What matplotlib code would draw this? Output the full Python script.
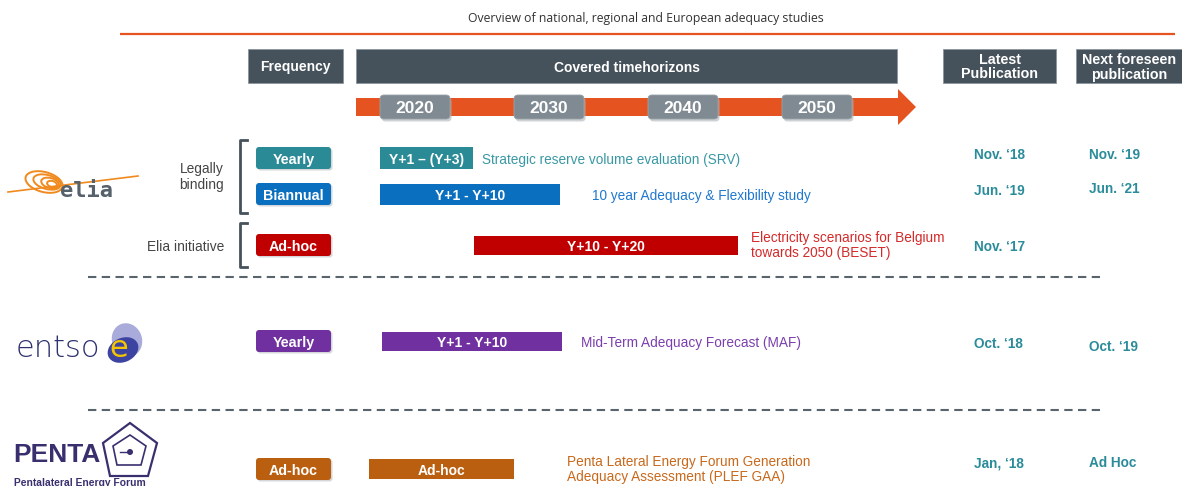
import matplotlib
matplotlib.use('Agg')
import matplotlib.pyplot as plt
from matplotlib.patches import FancyBboxPatch, Rectangle, Ellipse, Polygon, Circle

plt.rcParams['font.family'] = ['Liberation Sans', 'DejaVu Sans']

# ---- data ----
years = [2020, 2030, 2040, 2050]

freq_labels = ['Yearly', 'Biannual', 'Ad-hoc', 'Yearly', 'Ad-hoc']
row_colors = ['#2A8A96', '#0B6FC0', '#C00000', '#7030A0', '#BA5F10']
bar_start = [2017.4, 2017.4, 2024.4, 2017.5, 2016.6]
bar_end = [2024.3, 2030.8, 2044.1, 2031.0, 2027.4]
bar_labels = ['Y+1 – (Y+3)', 'Y+1 - Y+10', 'Y+10 - Y+20', 'Y+1 - Y+10', 'Ad-hoc']
descriptions = ['Strategic reserve volume evaluation (SRV)',
                '10 year Adequacy & Flexibility study',
                'Electricity scenarios for Belgium\ntowards 2050 (BESET)',
                'Mid-Term Adequacy Forecast (MAF)',
                'Penta Lateral Energy Forum Generation\nAdequacy Assessment (PLEF GAA)']
desc_colors = ['#3A98A4', '#1F78CF', '#D42A2A', '#7B3FAE', '#C8691C']
latest_pub = ["Nov. ‘18", "Jun. ‘19", "Nov. ‘17", "Oct. ‘18", "Jan, ‘18"]
next_pub = ["Nov. ‘19", "Jun. ‘21", "", "Oct. ‘19", "Ad Hoc"]

# ---- layout (pixels) ----
row_y = [158, 194, 245, 341, 469]
bar_h = [22, 21, 19, 19, 20]
desc_x = [482, 592, 751, 581, 567]
latest_y = [153, 189, 245, 342, 462]
next_y = [153, 187, None, 345, 461]

header_col = '#46525B'
orange = '#E55420'
date_col = '#2A8C9A'
px_per_year = 13.4
x2020 = 415

fig = plt.figure(figsize=(11.82, 4.86), dpi=100)
ax = fig.add_axes([0, 0, 1, 1])
ax.set_xlim(0, 1182)
ax.set_ylim(486, 0)
ax.axis('off')

# timeline axes: x in years
t_left, t_right = 356, 916
ax_t = fig.add_axes([t_left / 1182, 0, (t_right - t_left) / 1182, 1])
ax_t.set_xlim(2020 + (t_left - x2020) / px_per_year, 2020 + (t_right - x2020) / px_per_year)
ax_t.set_ylim(486, 0)
ax_t.axis('off')
ax_t.patch.set_alpha(0)

# title and orange rule
ax.text(646, 17, 'Overview of national, regional and European adequacy studies',
        ha='center', va='center_baseline', fontsize=8.8, color='#333333', family='Open Sans')
ax.plot([120, 1175], [34, 34], color=orange, lw=1.6, solid_capstyle='butt')

# header boxes
headers = [(248, 95, 'Frequency'), (356, 541, 'Covered timehorizons'),
           (943, 113, 'Latest\nPublication'), (1076, 106, 'Next foreseen\npublication')]
for hx, hw, ht in headers:
    ax.add_patch(Rectangle((hx, 49), hw, 34, facecolor=header_col, edgecolor='#8C969C', lw=0.6))
    if '\n' in ht:
        ax.text(hx + hw / 2, 67.5, ht, ha='center', va='center', color='white',
                fontsize=10.3, fontweight='bold', linespacing=1.0)
    else:
        ax.text(hx + hw / 2, 66, ht, ha='center', va='center_baseline', color='white',
                fontsize=10, fontweight='bold')

# orange timeline arrow
ax.fill([356, 898, 898, 916, 898, 898, 356], [98, 98, 89, 107, 125, 116, 116],
        color=orange, lw=0)

# year pills on the timeline axis
pill_w = 70 / px_per_year
for yr in years:
    ax_t.add_patch(FancyBboxPatch((yr - pill_w / 2 + 0.12, 97.5), pill_w, 24,
                                  boxstyle='round,pad=0,rounding_size=0.3',
                                  mutation_aspect=px_per_year,
                                  facecolor='#B0B4B8', edgecolor='none', alpha=0.6))
    ax_t.add_patch(FancyBboxPatch((yr - pill_w / 2, 95), pill_w, 24,
                                  boxstyle='round,pad=0,rounding_size=0.3',
                                  mutation_aspect=px_per_year,
                                  facecolor='#7F8A92', edgecolor='#9AA2A8', lw=0.6))
    ax_t.text(yr, 107, str(yr), ha='center', va='center_baseline', color='white',
              fontsize=12.5, fontweight='bold')

# study bars
for i in range(len(bar_labels)):
    ax_t.barh(row_y[i], bar_end[i] - bar_start[i], left=bar_start[i], height=bar_h[i],
              color=row_colors[i], edgecolor='none')
    ax_t.text((bar_start[i] + bar_end[i]) / 2, row_y[i], bar_labels[i], ha='center',
              va='center_baseline', color='white', fontsize=10, fontweight='bold')

# frequency pills
for i, lab in enumerate(freq_labels):
    ax.add_patch(FancyBboxPatch((257.5, row_y[i] - 9.5), 75, 22,
                                boxstyle='round,pad=0,rounding_size=3',
                                facecolor='#B8BCC0', edgecolor='none', alpha=0.6))
    ax.add_patch(FancyBboxPatch((256, row_y[i] - 11), 75, 22,
                                boxstyle='round,pad=0,rounding_size=3',
                                facecolor=row_colors[i], edgecolor='none'))
    ax.text(293.5, row_y[i], lab, ha='center', va='center_baseline', color='white',
            fontsize=10.3, fontweight='bold')

# descriptions
for i, d in enumerate(descriptions):
    if '\n' in d:
        ax.text(desc_x[i], row_y[i] + 0.5, d, ha='left', va='center',
                color=desc_colors[i], fontsize=9.8, linespacing=1.1)
    else:
        ax.text(desc_x[i], row_y[i], d, ha='left', va='center_baseline',
                color=desc_colors[i], fontsize=9.8)

# publication dates
for i in range(len(latest_pub)):
    ax.text(974, latest_y[i], latest_pub[i], ha='left', va='center_baseline', color=date_col,
            fontsize=9.8, fontweight='bold')
    if next_pub[i]:
        ax.text(1089, next_y[i], next_pub[i], ha='left', va='center_baseline', color=date_col,
                fontsize=9.8, fontweight='bold')

# brackets and group labels
ax.plot([247, 240, 240, 247], [140, 140, 213, 213], color=header_col, lw=2)
ax.plot([247, 240, 240, 247], [223, 223, 267, 267], color=header_col, lw=2)
ax.text(224, 177, 'Legally\nbinding', ha='right', va='center', color='#444444',
        fontsize=9.9, linespacing=1.1)
ax.text(224, 245, 'Elia initiative', ha='right', va='center_baseline', color='#444444',
        fontsize=9.9)

# dashed separators
for yy in [277, 410]:
    ax.plot([88, 1100], [yy, yy], color='#5A646C', lw=1.5, linestyle=(0, (4, 2.6)))

# ---- logos (approximations) ----
# elia
ax.plot([8, 138], [192, 176], color='#F08A1E', lw=1.2)
for (cx, cy, w, h, a) in [(44, 182, 38, 20, 15), (47, 182, 28, 14, 15),
                          (50, 183, 18, 10, 15), (52, 184, 10, 6, 15)]:
    ax.add_patch(Ellipse((cx, cy), w, h, angle=a, fill=False, edgecolor='#F08A1E', lw=1.4))
ax.text(60, 189, 'elia', ha='left', va='center_baseline', color='#56616B', fontsize=15.8,
        family='DejaVu Sans Mono', fontweight='bold')

# entso-e
ax.add_patch(Ellipse((127, 340), 30, 34, angle=-20, facecolor='#A9ABDA', edgecolor='none'))
ax.add_patch(Ellipse((123, 350), 32, 24, angle=-25, facecolor='#3D43A0', edgecolor='none'))
ax.text(16, 345, 'entso', ha='left', va='center_baseline', color='#2E3270', fontsize=22,
        family='DejaVu Sans', fontweight='light')
ax.text(119, 345, 'e', ha='center', va='center_baseline', color='#F2C500', fontsize=22,
        family='DejaVu Sans')

# PENTA
ax.text(13, 452, 'PENTA', ha='left', va='center_baseline', color='#3A2F6E', fontsize=19,
        fontweight='bold', family='Liberation Sans')
ax.add_patch(Polygon([(130, 423), (157, 443), (148, 476), (110, 476), (103, 443)],
                     closed=True, fill=False, edgecolor='#3A2F6E', lw=1.6))
ax.add_patch(Polygon([(130, 435), (146, 446), (141, 465), (117, 465), (113, 446)],
                     closed=True, fill=False, edgecolor='#3A2F6E', lw=1.2))
ax.add_patch(Circle((130, 452), 3, facecolor='#3A2F6E', edgecolor='none'))
ax.plot([120, 127], [452, 452], color='#3A2F6E', lw=1)
ax.text(14, 482, 'Pentalateral Energy Forum', ha='left', va='center_baseline',
        color='#3A2F6E', fontsize=7.4, fontweight='bold')

fig.savefig('out.png', dpi=100)
